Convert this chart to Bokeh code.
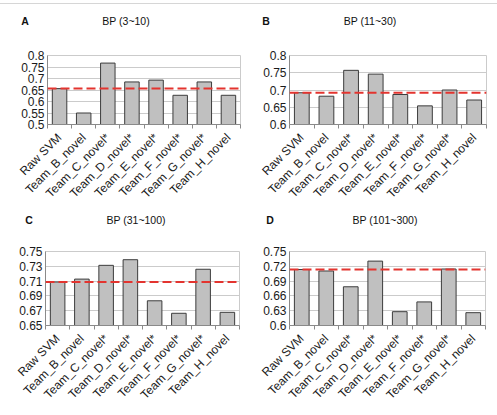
from math import pi

from bokeh.embed import file_html
from bokeh.layouts import column, row
from bokeh.models import Div, FixedTicker, Range1d, Span
from bokeh.plotting import figure
from bokeh.resources import INLINE

# Methods compared in every panel
methods = ["Raw SVM", "Team_B_novel", "Team_C_novel*", "Team_D_novel*",
           "Team_E_novel*", "Team_F_novel*", "Team_G_novel*", "Team_H_novel"]

# Scores per binding-protein size bin
bp_3_10 = [0.656, 0.550, 0.767, 0.685, 0.693, 0.627, 0.685, 0.627]
bp_11_30 = [0.692, 0.682, 0.757, 0.746, 0.687, 0.654, 0.700, 0.671]
bp_31_100 = [0.7088, 0.7127, 0.7313, 0.7389, 0.6834, 0.6665, 0.7260, 0.6678]
bp_101_300 = [0.7135, 0.7105, 0.6785, 0.7305, 0.6280, 0.6478, 0.7145, 0.6260]

# Y tick values per panel
ticks_3_10 = [0.5, 0.55, 0.6, 0.65, 0.7, 0.75, 0.8]
ticks_11_30 = [0.6, 0.65, 0.7, 0.75, 0.8]
ticks_31_100 = [0.65, 0.67, 0.69, 0.71, 0.73, 0.75]
ticks_101_300 = [0.6, 0.63, 0.66, 0.69, 0.72, 0.75]

panel_letters = ["A", "B", "C", "D"]
panel_titles = ["BP (3~10)", "BP (11~30)", "BP (31~100)", "BP (101~300)"]

FONT = "Liberation Sans"
BAR_FILL = "#c0c0c0"
BAR_LINE = "#3c3c3c"
GRID = "#cbcbcb"
AXIS = "#8a8a8a"
RED = "#e3342f"
RULE = "#d6d6d6"
TEXT = "#1a1a1a"
PAGE_W = 497


def panel(vals, ticks, width, height, borders):
    left, right, top, bottom = borders
    p = figure(width=width, height=height, output_backend="svg",
               toolbar_location=None, tools="",
               x_range=Range1d(0, len(vals)),
               y_range=Range1d(ticks[0], ticks[-1]),
               min_border_left=left, min_border_right=right,
               min_border_top=top, min_border_bottom=bottom)
    p.background_fill_color = "white"
    p.border_fill_color = "white"
    p.outline_line_color = GRID

    centers = [i + 0.5 for i in range(len(vals))]
    p.vbar(x=centers, top=vals, bottom=ticks[0], width=0.6,
           fill_color=BAR_FILL, line_color=BAR_LINE, line_width=1)

    # Raw SVM reference level
    p.add_layout(Span(location=vals[0], dimension="width", line_color=RED,
                      line_width=2, line_dash="9 4"))

    # y axis
    ya = p.yaxis[0]
    ya.ticker = FixedTicker(ticks=ticks)
    ya.major_label_overrides = {t: f"{t:g}" for t in ticks}
    ya.major_tick_out = 0
    ya.major_tick_in = 0
    ya.minor_tick_out = 0
    ya.minor_tick_in = 0
    ya.axis_line_color = AXIS
    ya.major_label_standoff = 3
    ya.major_label_text_font = FONT
    ya.major_label_text_font_size = "12px"
    ya.major_label_text_color = TEXT

    # x axis: labels at bar centres, tick marks between categories
    xa = p.xaxis[0]
    xa.ticker = FixedTicker(ticks=centers, minor_ticks=list(range(len(vals) + 1)))
    xa.major_label_overrides = {c: m for c, m in zip(centers, methods)}
    xa.major_label_orientation = pi / 4
    xa.major_tick_out = 0
    xa.major_tick_in = 0
    xa.minor_tick_out = 4
    xa.minor_tick_in = 0
    xa.minor_tick_line_color = AXIS
    xa.axis_line_color = AXIS
    xa.major_label_standoff = 7
    xa.major_label_text_font = FONT
    xa.major_label_text_font_size = "12px"
    xa.major_label_text_color = TEXT

    p.xgrid.visible = False
    p.ygrid.grid_line_color = GRID
    return p


def header(height, items, rule_top=None):
    """A strip holding panel letters and titles (centred at given x, y)."""
    parts = [f'<div style="position:relative;width:{PAGE_W}px;height:{height}px;'
             f'font-family:\'{FONT}\',Arial,sans-serif;color:#111;">']
    if rule_top is not None:
        parts.append(f'<div style="position:absolute;left:0;top:{rule_top}px;'
                     f'width:{PAGE_W}px;height:1px;background:{RULE};"></div>')
    for text, x, y, bold in items:
        weight = "bold" if bold else "normal"
        parts.append(f'<span style="position:absolute;left:{x}px;top:{y}px;'
                     f'transform:translate(-50%,-50%);font-size:10.5px;'
                     f'font-weight:{weight};white-space:nowrap;line-height:1;">'
                     f'{text}</span>')
    parts.append("</div>")
    return Div(text="".join(parts), width=PAGE_W, height=height, margin=0,
               styles={"overflow": "hidden"})


top_header = header(43, [(panel_letters[0], 25, 21, True),
                         (panel_titles[0], 126, 21, False),
                         (panel_letters[1], 266, 21, True),
                         (panel_titles[1], 370, 21, False)], rule_top=3)
mid_header = header(33, [(panel_letters[2], 29, 12, True),
                         (panel_titles[2], 136, 12, False),
                         (panel_letters[3], 270, 12, True),
                         (panel_titles[3], 385, 12, False)])
bottom_rule = header(2, [], rule_top=0)

pa = panel(bp_3_10, ticks_3_10, 248, 165, (47, 8, 12, 79))
pb = panel(bp_11_30, ticks_11_30, 249, 165, (41, 11, 12, 78))
pc = panel(bp_31_100, ticks_31_100, 248, 168, (45, 9, 10, 82))
pd = panel(bp_101_300, ticks_101_300, 249, 168, (41, 12, 10, 82))

layout = column(top_header, row(pa, pb, spacing=0), mid_header,
                row(pc, pd, spacing=0), bottom_rule, spacing=0)

html = file_html(layout, INLINE, title="BP panels")
# keep the page itself from showing scroll bars
html = html.replace("<head>", "<head><style>html,body{margin:0;overflow:hidden;}</style>", 1)
open("out.html", "w").write(html)
